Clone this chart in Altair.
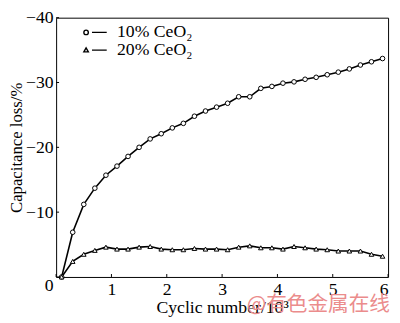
import altair as alt
import pandas as pd

cycles = [0.1, 0.3, 0.5, 0.7, 0.9, 1.1, 1.3, 1.5, 1.7, 1.9, 2.1, 2.3, 2.5, 2.7, 2.9,
          3.1, 3.3, 3.5, 3.7, 3.9, 4.1, 4.3, 4.5, 4.7, 4.9, 5.1, 5.3, 5.5, 5.7, 5.9]
loss_10 = [0, -6.9, -11.2, -13.7, -15.7, -17.1, -18.6, -20.0, -21.3, -22.1, -23.0, -23.7,
           -24.8, -25.6, -26.2, -26.8, -27.8, -27.8, -29.1, -29.4, -29.9, -30.1, -30.5,
           -30.8, -31.2, -31.6, -32.1, -32.7, -33.2, -33.7]
loss_20 = [0, -2.4, -3.5, -4.1, -4.6, -4.3, -4.3, -4.6, -4.7, -4.3, -4.2, -4.2, -4.4,
           -4.3, -4.3, -4.2, -4.6, -4.8, -4.5, -4.5, -4.3, -4.7, -4.5, -4.3, -4.2, -4.0,
           -4.0, -4.0, -3.5, -3.2]
series_names = ["10% CeO₂", "20% CeO₂"]
x_ticks = [0, 1, 2, 3, 4, 5, 6]
y_ticks = [0, -10, -20, -30, -40]
watermark = ["@有色金属在线"]

rows = []
for name, vals in zip(series_names, [loss_10, loss_20]):
    for c, v in zip(cycles, vals):
        rows.append({"cycle": c, "loss": v, "series": name})
df = pd.DataFrame(rows)

W, H = 338, 264
FONT = "Liberation Serif"
FS = 18

xscale = alt.Scale(domain=[0, 6], nice=False, zero=False)
yscale = alt.Scale(domain=[-40, 0], reverse=True, nice=False)

xaxis = alt.Axis(values=x_ticks, title="Cyclic number/10³", grid=False, ticks=False,
                 domain=False, labelFont=FONT, labelFontSize=FS, labelColor="black",
                 labelPadding=4, titleFont=FONT, titleFontSize=FS, titleFontWeight="normal",
                 titleColor="black", titlePadding=0,
                 labelExpr="datum.value == 0 ? '' : datum.label")
yaxis = alt.Axis(values=y_ticks, title="Capacitance loss/%", grid=False, ticks=False,
                 domain=False, labelFont=FONT, labelFontSize=FS, labelColor="black",
                 labelPadding=3, titleFont=FONT, titleFontSize=17, titleFontWeight="normal",
                 titleColor="black", titlePadding=0,
                 labelOffset={"condition": {"test": "datum.value === 0", "value": 9}, "value": 0})

X = alt.X("cycle:Q", scale=xscale, axis=xaxis)
Y = alt.Y("loss:Q", scale=yscale, axis=yaxis)

base = alt.Chart(df)

lines = base.mark_line(color="black", strokeWidth=1.6).encode(x=X, y=Y, detail="series:N")

points = base.mark_point(filled=True, fill="white", stroke="black", strokeWidth=1,
                         size=22, opacity=1).encode(
    x=X, y=Y,
    shape=alt.Shape("series:N", scale=alt.Scale(domain=series_names,
                                                 range=["circle", "triangle-up"]),
                    legend=None))

circ_sym = "M -1.96 0 A 0.38 0.38 0 1 0 -1.2 0 A 0.38 0.38 0 1 0 -1.96 0 Z M -0.58 0 L 1.92 0"
tri_sym = "M -1.96 0.3 L -1.2 0.3 L -1.58 -0.36 Z M -0.58 0 L 1.92 0"

legend_layer = base.mark_point(opacity=0).encode(
    x=X, y=Y,
    shape=alt.Shape("series:N", scale=alt.Scale(domain=series_names,
                                                 range=[circ_sym, tri_sym]),
                    legend=alt.Legend(title=None, orient="none", legendX=31, legendY=6,
                                      symbolSize=144, symbolFillColor="white",
                                      symbolStrokeColor="black", symbolStrokeWidth=1.4,
                                      symbolOpacity=1, labelFont=FONT, labelFontSize=FS,
                                      labelColor="black", labelOffset=13, rowPadding=0,
                                      padding=0)))

xt_df = pd.DataFrame({"cycle": x_ticks})
yt_df = pd.DataFrame({"loss": y_ticks})
xticks = alt.Chart(xt_df).mark_rule(color="black", strokeWidth=1).encode(
    x=X, y=alt.value(H), y2=alt.value(H - 3))
yticks = alt.Chart(yt_df).mark_rule(color="black", strokeWidth=1).encode(
    y=Y, x=alt.value(0), x2=alt.value(3))

wm = alt.Chart(pd.DataFrame({"label": watermark})).mark_text(
    font="Noto Sans CJK SC", fontSize=21, color="#eb8c8c", align="center",
    baseline="middle").encode(text="label:N", x=alt.value(267), y=alt.value(293))

chart = alt.layer(lines, points, legend_layer, xticks, yticks, wm).resolve_scale(
    shape="independent"
).properties(
    width=W, height=H,
    autosize=alt.AutoSizeParams(type="none"),
    padding={"left": 49, "top": 7, "right": 4, "bottom": 44},
).configure_view(stroke="black", strokeWidth=1)

chart.save("out.html", embed_options={"renderer": "svg", "actions": False})
